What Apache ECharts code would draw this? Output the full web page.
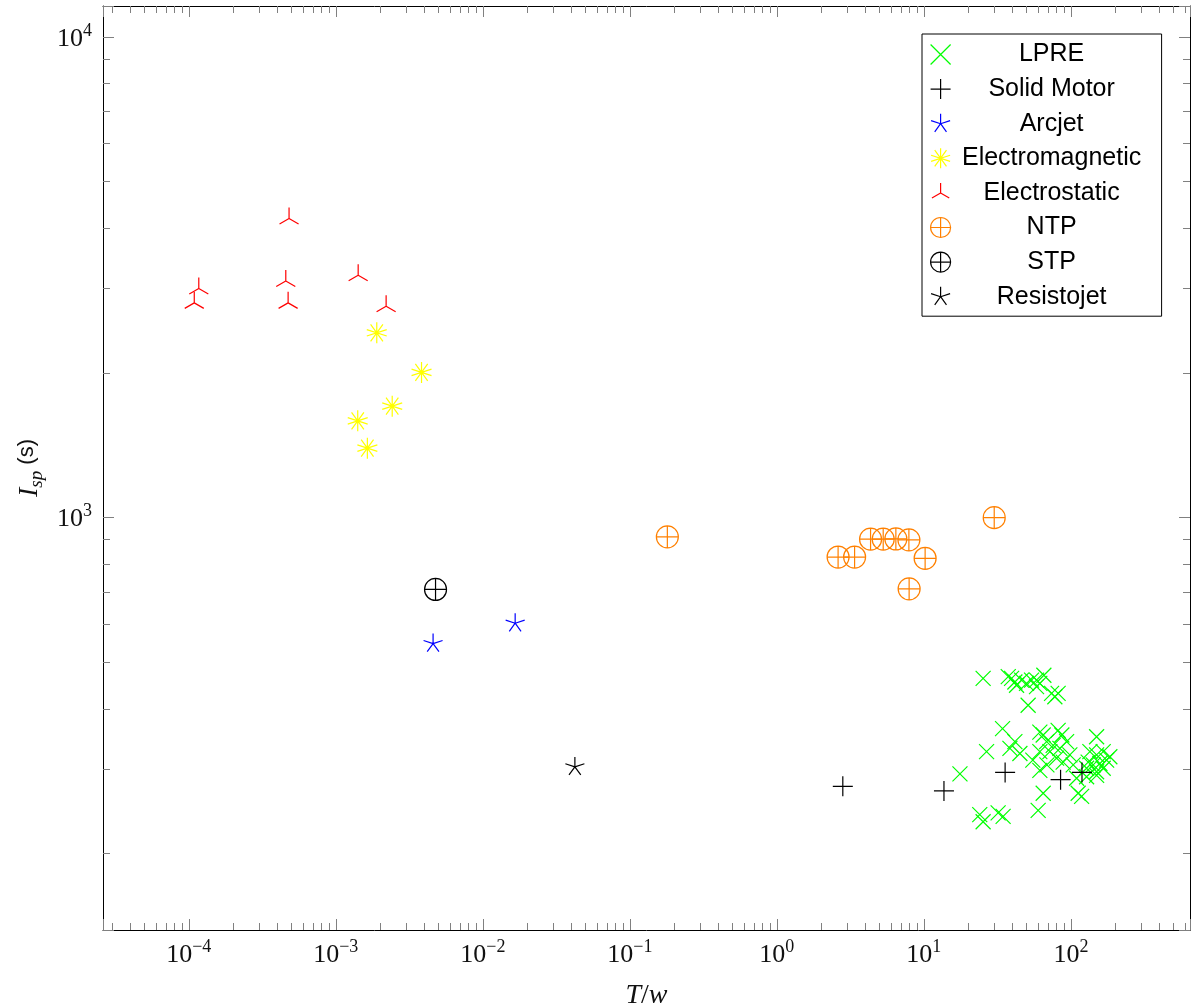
<!DOCTYPE html>
<html>
<head>
<meta charset="utf-8">
<title>Isp vs T/w</title>
<script src="https://cdn.jsdelivr.net/npm/echarts@6/dist/echarts.min.js"></script>
<style>
  html, body { margin: 0; padding: 0; background: #fff; }
  #chart { width: 1192px; height: 1005px; }
</style>
</head>
<body>
<div id="chart"></div>
<script>
// values: thrust to weight ratio (T/w) and specific impulse (s)
var lpreTw  = [25.3, 37.5, 39.5, 41.6, 42.7, 46.2, 49.9, 54.0, 58.4, 61.5, 65.5, 58.4, 73.9, 81.9, 77.8, 51.2,
               34.3, 26.7, 41.6, 38.5, 45.0, 61.5, 64.8, 81.9, 68.4, 75.8, 72.0, 84.2, 93.5, 98.4, 88.6, 79.9,
               61.5, 61.5, 103.7, 149.6, 134.7, 149.6, 165.9, 131.1, 141.8, 157.5, 175.0, 165.9, 149.6, 127.9,
               17.6, 127.9, 149.6, 109.4, 112.1, 118.3, 64.8, 59.9, 24.0, 25.3, 32.0, 34.6, 184.1, 86.8, 55.1, 68.7];
var lpreIsp = [463, 467, 463, 455, 448, 459, 452, 459, 459, 452, 470, 445, 431, 431, 424, 407,
               364, 326, 342, 331, 323, 358, 353, 361, 342, 336, 326, 331, 342, 321, 310, 316,
               326, 298, 306, 350, 326, 321, 326, 310, 306, 308, 313, 301, 296, 301,
               293, 289, 291, 287, 267, 263, 267, 246, 241, 233, 243, 239, 318, 353, 313, 306];

var solidTw  = [2.81, 13.7, 35.7, 85.1, 119];
var solidIsp = [276, 270, 295, 285, 295];

var arcjetTw  = [0.00459, 0.0166];
var arcjetIsp = [547, 603];

var emTw  = [0.00190, 0.00383, 0.00242, 0.00141, 0.00164];
var emIsp = [2424, 2005, 1706, 1590, 1395];

var esTw  = [0.000481, 0.00142, 0.000117, 0.000457, 0.000109, 0.000474, 0.00220];
var esIsp = [4192, 3195, 2997, 3108, 2798, 2798, 2754];

var ntpTw  = [0.180, 2.61, 3.38, 4.34, 5.29, 6.45, 7.91, 10.2, 7.94, 30.1];
var ntpIsp = [912, 828, 828, 902, 902, 903, 899, 823, 711, 1000];

var stpTw  = [0.00477];
var stpIsp = [709];

var resistoTw  = [0.0423];
var resistoIsp = [303];

var xMin = 2.61e-5, xMax = 646;
var yMin = 138.7, yMax = 11600;

// marker shapes (stroked paths)
var SYM_X     = 'path://M0,0L10,10M10,0L0,10';
var SYM_PLUS  = 'path://M5,0L5,10M0,5L10,5';
var SYM_STAR  = 'path://M10,10L10,0M10,10L19.51,6.91M10,10L0.49,6.91M10,10L4.12,18.09M10,10L15.88,18.09M10,20L10,20';
var SYM_AST   = 'path://M10,0L10,20M4.12,1.91L15.88,18.09M0.49,6.91L19.51,13.09M0.49,13.09L19.51,6.91M4.12,18.09L15.88,1.91';
var SYM_MERC  = 'path://M10,10L10,0M10,10L18.66,15M10,10L1.34,15M10,20L10,20';
var SYM_OPLUS = 'path://M0,10A10,10,0,1,1,20,10A10,10,0,1,1,0,10ZM10,0L10,20M0,10L20,10';

function pairs(xs, ys) {
    return xs.map(function (x, i) { return [x, ys[i]]; });
}

function markSeries(name, data, symbol, size, color) {
    return {
        name: name,
        type: 'scatter',
        data: data,
        symbol: symbol,
        symbolSize: size,
        symbolKeepAspect: true,
        itemStyle: { color: 'transparent', borderColor: color, borderWidth: 1.2, opacity: 1 },
        emphasis: { disabled: true },
        xAxisIndex: 0,
        yAxisIndex: 0
    };
}

var SERIF = 'Liberation Serif';
var SANS = 'Liberation Sans';
var TICK = '#808080';

// only label the decades, not the axis ends
function powLabel(v) {
    var lg = Math.log10(v);
    var e = Math.round(lg);
    if (Math.abs(lg - e) > 1e-6) return '';
    return '{b|10}{e|' + String(e).replace('-', '\u2212') + '}';
}

var labelRich = {
    b: { fontFamily: SERIF, fontSize: 26, color: '#111', lineHeight: 30, verticalAlign: 'bottom' },
    e: { fontFamily: SERIF, fontSize: 18, color: '#111', lineHeight: 16, verticalAlign: 'top' }
};

function logAxis(min, max, pos, withLabels) {
    return {
        type: 'log',
        logBase: 10,
        min: min,
        max: max,
        position: pos,
        axisLine: { show: true, onZero: false, lineStyle: { color: '#000', width: 1 } },
        axisTick: { show: true, inside: true, length: 11, lineStyle: { color: TICK, width: 1 } },
        minorTick: { show: true, splitNumber: 9, length: 7, lineStyle: { color: TICK, width: 1 } },
        splitLine: { show: false },
        minorSplitLine: { show: false },
        axisLabel: withLabels ? { show: true, formatter: powLabel, rich: labelRich } : { show: false }
    };
}

var chart = echarts.init(document.getElementById('chart'));

var xBottom = logAxis(xMin, xMax, 'bottom', true);
xBottom.axisLabel.margin = 8;
xBottom.name = '{i|T}{n|/}{i|w}';
xBottom.nameLocation = 'middle';
xBottom.nameGap = 52;
xBottom.nameTextStyle = {
    rich: {
        i: { fontFamily: SERIF, fontStyle: 'italic', fontSize: 28, color: '#111' },
        n: { fontFamily: SERIF, fontSize: 28, color: '#111' }
    }
};

var yLeft = logAxis(yMin, yMax, 'left', true);
yLeft.axisLabel.margin = 11;
yLeft.name = '{i|I}{s|sp}{n| (s)}';
yLeft.nameLocation = 'middle';
yLeft.nameRotate = 90;
yLeft.nameGap = 56;
yLeft.nameTextStyle = {
    rich: {
        i: { fontFamily: SERIF, fontStyle: 'italic', fontSize: 28, color: '#111', lineHeight: 30, verticalAlign: 'top' },
        s: { fontFamily: SERIF, fontStyle: 'italic', fontSize: 19, color: '#111', lineHeight: 18, verticalAlign: 'bottom' },
        n: { fontFamily: SANS, fontSize: 22, color: '#111', lineHeight: 30, verticalAlign: 'top' }
    }
};

chart.setOption({
    animation: false,
    backgroundColor: '#fff',
    grid: { left: 103, top: 6, right: 2, bottom: 75, containLabel: false, outerBoundsMode: 'none' },
    xAxis: [xBottom, logAxis(xMin, xMax, 'top', false)],
    yAxis: [yLeft, logAxis(yMin, yMax, 'right', false)],
    legend: {
        orient: 'vertical',
        left: 922,
        top: 34,
        padding: [8, 14, 7, 8],
        itemWidth: 20,
        itemHeight: 20,
        itemGap: 9.6,
        borderColor: '#000',
        borderWidth: 1,
        backgroundColor: '#fff',
        itemStyle: { borderWidth: 1.2 },
        selectedMode: false,
        formatter: function (name) { return '{t|' + name + '}'; },
        textStyle: {
            rich: {
                t: { width: 192, align: 'center', fontFamily: SANS, fontSize: 25, color: '#000', lineHeight: 22 }
            }
        },
        data: ['LPRE', 'Solid Motor', 'Arcjet', 'Electromagnetic', 'Electrostatic', 'NTP', 'STP', 'Resistojet']
    },
    series: [
        markSeries('LPRE', pairs(lpreTw, lpreIsp), SYM_X, 15, '#00ff00'),
        markSeries('Solid Motor', pairs(solidTw, solidIsp), SYM_PLUS, 20, '#000000'),
        markSeries('Arcjet', pairs(arcjetTw, arcjetIsp), SYM_STAR, 20, '#0000ff'),
        markSeries('Electromagnetic', pairs(emTw, emIsp), SYM_AST, 21, '#ffff00'),
        markSeries('Electrostatic', pairs(esTw, esIsp), SYM_MERC, 22, '#ff0000'),
        markSeries('NTP', pairs(ntpTw, ntpIsp), SYM_OPLUS, 22, '#ff8000'),
        markSeries('STP', pairs(stpTw, stpIsp), SYM_OPLUS, 22, '#000000'),
        markSeries('Resistojet', pairs(resistoTw, resistoIsp), SYM_STAR, 20, '#000000')
    ]
});
</script>
</body>
</html>
